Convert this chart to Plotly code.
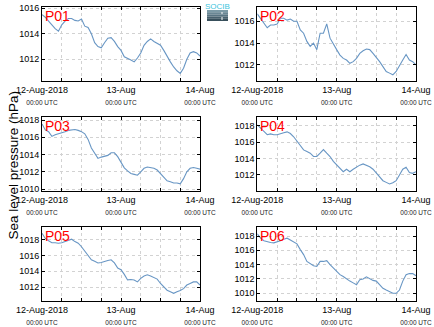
import pandas as pd
import plotly.graph_objects as go

times = pd.date_range("2018-08-12 00:00", periods=49, freq="h")

p01 = [1015.5, 1015.3, 1015.0, 1014.7, 1014.4, 1014.2, 1014.7, 1015.0, 1015.2, 1015.2,
       1015.05, 1015.0, 1015.15, 1014.6, 1014.5, 1014.0, 1013.3, 1013.0, 1012.9, 1013.3,
       1013.65, 1013.7, 1013.4, 1013.0, 1012.7, 1012.2, 1012.1, 1011.95, 1011.8, 1012.1,
       1012.5, 1013.1, 1013.4, 1013.6, 1013.4, 1013.25, 1013.1, 1012.7, 1012.2, 1011.8,
       1011.4, 1011.1, 1010.9, 1011.3, 1012.0, 1012.5, 1012.6, 1012.5, 1012.25]
p02 = [1016.67, 1016.27, 1015.8, 1015.4, 1015.65, 1015.65, 1015.75, 1016.27, 1016.27, 1016.1,
       1016.2, 1016.0, 1016.0, 1015.2, 1014.9, 1014.15, 1013.7, 1014.0, 1013.4, 1014.9,
       1014.9, 1015.75, 1014.45, 1013.85, 1013.4, 1012.9, 1012.6, 1012.45, 1012.15, 1012.3,
       1012.6, 1013.05, 1013.3, 1013.45, 1013.4, 1013.05, 1012.7, 1012.3, 1011.85, 1011.4,
       1011.25, 1011.1, 1011.4, 1012.0, 1012.45, 1012.95, 1012.45, 1012.3, 1012.0]
p03 = [1017.55, 1016.85, 1016.65, 1016.1, 1016.3, 1016.4, 1016.5, 1016.65, 1016.8, 1016.85,
       1016.9, 1016.8, 1016.65, 1016.4, 1015.75, 1014.75, 1014.1, 1013.55, 1013.7, 1013.8,
       1013.9, 1014.2, 1014.2, 1013.75, 1013.15, 1012.45, 1012.1, 1011.8, 1011.7, 1011.6,
       1012.0, 1012.4, 1012.55, 1012.5, 1012.4, 1012.2, 1011.8, 1011.4, 1010.95, 1010.85,
       1010.7, 1010.7, 1010.6, 1011.2, 1012.0, 1012.4, 1012.5, 1012.4, 1012.3]
p04 = [1018.1, 1017.7, 1017.3, 1016.9, 1017.0, 1016.9, 1016.9, 1017.05, 1017.15, 1017.25,
       1017.05, 1016.65, 1016.1, 1015.7, 1015.05, 1014.85, 1014.65, 1014.25, 1014.25, 1014.65,
       1015.1, 1014.65, 1014.25, 1013.65, 1013.2, 1012.8, 1012.4, 1012.7, 1012.4, 1012.7,
       1013.0, 1013.2, 1013.35, 1013.2, 1013.0, 1012.7, 1012.2, 1011.8, 1011.3, 1011.1,
       1010.9, 1011.05, 1011.3, 1012.0, 1012.7, 1012.95, 1012.3, 1012.2, 1012.4]
p05 = [1018.8, 1018.15, 1017.85, 1017.6, 1017.6, 1017.55, 1017.6, 1017.75, 1017.85, 1018.05,
       1017.75, 1017.55, 1017.1, 1016.5, 1015.9, 1015.45, 1015.25, 1015.05, 1015.1, 1015.25,
       1015.35, 1015.45, 1015.05, 1014.4, 1014.2, 1013.6, 1012.9, 1012.95, 1012.9, 1012.65,
       1013.1, 1013.4, 1013.55, 1013.4, 1013.25, 1013.0, 1012.45, 1012.05, 1011.6, 1011.4,
       1011.2, 1011.4, 1011.55, 1011.8, 1012.25, 1012.45, 1012.65, 1012.65, 1012.25]
p06 = [1018.3, 1017.7, 1017.35, 1017.2, 1017.1, 1017.05, 1017.15, 1017.35, 1017.55, 1017.7,
       1017.45, 1017.2, 1016.9, 1016.1, 1015.4, 1014.45, 1014.15, 1013.85, 1013.75, 1014.45,
       1014.45, 1014.55, 1014.0, 1013.55, 1013.05, 1012.6, 1012.35, 1012.0, 1011.7, 1011.45,
       1011.2, 1011.9, 1012.0, 1012.3, 1012.0, 1011.8, 1011.7, 1011.2, 1010.7, 1010.45,
       1010.25, 1010.0, 1010.0, 1010.45, 1011.7, 1012.6, 1012.75, 1012.75, 1012.45]

station_names = ["P01", "P02", "P03", "P04", "P05", "P06"]
series = [p01, p02, p03, p04, p05, p06]
y_ranges = [[1010.3, 1016.1], [1010.53, 1017.3], [1009.77, 1018.35],
            [1010.05, 1019.06], [1010.23, 1019.6], [1008.92, 1019.26]]
y_ticks = [[1012, 1014, 1016], [1012, 1014, 1016], [1010, 1012, 1014, 1016, 1018],
           [1012, 1014, 1016, 1018], [1012, 1014, 1016, 1018], [1010, 1012, 1014, 1016, 1018]]

tick_times = pd.date_range("2018-08-12 00:00", periods=9, freq="6h")
sub = "<br><span style='font-size:6.5px;fill:#222222'>00:00 UTC</span>"
tick_text = ["12-Aug-2018" + sub, "", "", "", "13-Aug" + sub, "", "", "", "14-Aug" + sub]

W, H = 434, 327
col_x = [(42, 200), (257.3, 416)]
row_y = [(7, 81), (117, 191), (227, 301)]

FONT = "Liberation Sans, Arial, sans-serif"
LINE = "rgb(104,150,196)"
GRID = "#d2d2d2"

fig = go.Figure()
for i, (name, vals) in enumerate(zip(station_names, series)):
    r, c = divmod(i, 2)
    xa = "x" if i == 0 else f"x{i+1}"
    ya = "y" if i == 0 else f"y{i+1}"
    fig.add_trace(go.Scatter(x=times, y=vals, mode="lines", xaxis=xa, yaxis=ya,
                             line=dict(color=LINE, width=1.1), showlegend=False))
    x0, x1 = col_x[c]
    yt, yb = row_y[r]
    xkey = "xaxis" if i == 0 else f"xaxis{i+1}"
    ykey = "yaxis" if i == 0 else f"yaxis{i+1}"
    fig.layout[xkey] = dict(
        domain=[x0 / W, x1 / W], anchor=ya, automargin=False,
        range=[times[0], times[-1]], tickmode="array",
        tickvals=list(tick_times), ticktext=tick_text,
        showgrid=True, gridcolor=GRID, griddash="dot", gridwidth=1,
        showline=True, linecolor="black", linewidth=1, mirror="ticks",
        ticks="inside", ticklen=3, tickcolor="black",
        tickfont=dict(size=9, color="black", family=FONT), tickangle=0,
        zeroline=False)
    fig.layout[ykey] = dict(
        domain=[1 - yb / H, 1 - yt / H], anchor=xa, automargin=False,
        range=y_ranges[i], tickmode="array", tickvals=y_ticks[i],
        ticktext=[str(v) for v in y_ticks[i]],
        showgrid=True, gridcolor=GRID, griddash="dot", gridwidth=1,
        showline=True, linecolor="black", linewidth=1, mirror="ticks",
        ticks="inside", ticklen=3, tickcolor="black",
        tickfont=dict(size=9, color="black", family=FONT), zeroline=False)
    fig.add_annotation(text=name, xref="paper", yref="paper",
                       x=(x0 + 1) / W, y=1 - (yt - 1) / H, xanchor="left", yanchor="top",
                       showarrow=False, font=dict(size=14, color="red", family=FONT))

fig.add_annotation(text="Sea level pressure (hPa)", textangle=-90, xref="paper", yref="paper",
                   x=3 / W, y=1 - 165 / H, xanchor="left", yanchor="middle",
                   showarrow=False, font=dict(size=13.5, color="black", family=FONT))

# SOCIB logo
logo_fills = ["#7c9aa6", "#6a8794", "#587482", "#47606d", "#384f5b"]
for k, col in enumerate(logo_fills):
    fig.add_shape(type="rect", xref="paper", yref="paper",
                  x0=207 / W, x1=228 / W,
                  y0=1 - (10 + 2.2 * (k + 1)) / H, y1=1 - (10 + 2.2 * k) / H,
                  fillcolor=col, line=dict(width=0))
fig.add_shape(type="line", xref="paper", yref="paper", x0=222 / W, x1=222 / W,
              y0=1 - 20 / H, y1=1 - 12 / H, line=dict(color="white", width=1, dash="dot"))
fig.add_annotation(text="SOCIB", xref="paper", yref="paper", x=217.5 / W, y=1 - 0 / H,
                   xanchor="center", yanchor="top", showarrow=False,
                   font=dict(size=8, color="#3cc4dc", family=FONT))

fig.update_layout(width=W, height=H, margin=dict(l=0, r=0, t=0, b=0, autoexpand=False),
                  paper_bgcolor="white", plot_bgcolor="white",
                  font=dict(family=FONT, color="black"))
fig.write_html("out.html")
